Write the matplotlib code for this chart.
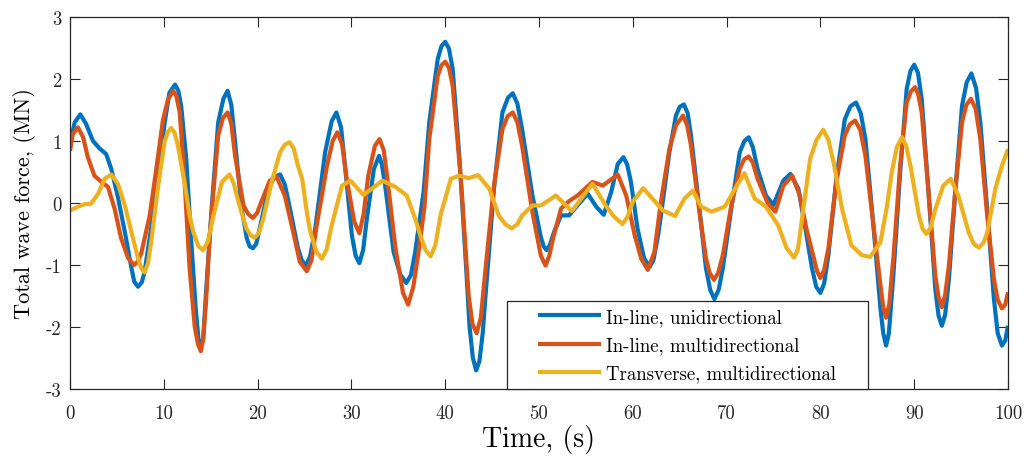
import numpy as np
import matplotlib as mpl
mpl.use('Agg')
import matplotlib.pyplot as plt
from matplotlib.patches import Rectangle

#### Series: (tiempo [s], fuerza total de ola [MN]) ####
inline_uni = [(0.0, 0.95), (0.5, 1.30), (1.1, 1.43), (1.7, 1.28), (2.45, 1.0), (3.15, 0.88), (3.85, 0.79),
              (4.4, 0.55), (5.1, 0.10), (5.85, -0.47), (6.55, -1.05), (6.85, -1.27), (7.25, -1.35),
              (7.65, -1.28), (7.95, -1.11), (8.65, -0.41), (9.4, 0.44), (10.1, 1.30), (10.6, 1.78),
              (11.2, 1.91), (11.55, 1.81), (11.85, 1.57), (12.4, 0.70), (12.9, -0.55), (13.4, -1.70),
              (13.7, -2.20), (13.95, -2.31), (14.2, -2.18), (14.5, -1.45), (15.1, -0.09), (15.8, 1.30),
              (16.35, 1.68), (16.8, 1.81), (17.2, 1.58), (17.6, 0.98), (18.3, -0.09), (18.85, -0.57),
              (19.15, -0.70), (19.5, -0.73), (19.85, -0.66), (20.3, -0.36), (21.15, 0.23), (21.8, 0.42),
              (22.4, 0.46), (22.9, 0.30), (23.45, -0.09), (24.3, -0.73), (24.7, -0.92), (25.15, -1.01),
              (25.6, -0.86), (26.15, -0.41), (27.2, 0.82), (27.9, 1.32), (28.4, 1.46), (28.9, 1.22),
              (29.35, 0.55), (30.05, -0.52), (30.45, -0.85), (30.85, -0.97), (31.25, -0.76), (31.65, -0.25),
              (32.4, 0.55), (32.95, 0.76), (33.25, 0.62), (33.6, 0.28), (34.5, -0.79), (35.2, -1.15),
              (35.85, -1.29), (36.35, -1.16), (36.8, -0.79), (37.7, 0.18), (38.3, 1.30), (39.2, 2.32),
              (39.6, 2.53), (40.0, 2.60), (40.4, 2.49), (40.8, 2.16), (41.5, 0.76), (42.2, -0.96),
              (42.6, -2.0), (42.95, -2.5), (43.3, -2.70), (43.65, -2.55), (44.0, -2.1), (44.3, -1.49),
              (45.2, 0.23), (46.1, 1.46), (46.7, 1.70), (47.2, 1.77), (47.7, 1.60), (48.2, 1.19),
              (49.3, 0.12), (50.2, -0.55), (50.5, -0.70), (50.8, -0.76), (51.15, -0.68), (51.6, -0.47),
              (52.35, -0.20), (53.2, -0.20), (54.1, -0.04), (55.2, 0.15), (56.1, -0.06), (56.9, -0.19),
              (57.7, 0.18), (58.4, 0.63), (59.0, 0.74), (59.4, 0.62), (59.8, 0.34), (60.5, -0.41),
              (61.2, -0.89), (61.8, -1.03), (62.2, -0.92), (62.7, -0.52), (63.0, -0.20), (63.9, 0.82),
              (64.6, 1.41), (65.0, 1.55), (65.45, 1.59), (65.85, 1.45), (66.2, 1.09), (67.1, -0.09),
              (67.8, -1.05), (68.25, -1.40), (68.7, -1.55), (69.15, -1.40), (69.6, -1.05), (70.5, -0.09),
              (71.4, 0.82), (71.9, 1.0), (72.35, 1.06), (72.8, 0.9), (73.3, 0.55), (74.2, 0.12),
              (75.0, -0.03), (76.05, 0.36), (76.8, 0.47), (77.65, 0.23), (78.4, -0.41), (79.1, -1.05),
              (79.55, -1.35), (80.0, -1.45), (80.4, -1.30), (80.85, -0.84), (81.7, 0.39), (82.6, 1.35),
              (83.2, 1.56), (83.8, 1.62), (84.3, 1.45), (84.8, 1.03), (85.65, -0.36), (86.4, -1.70),
              (86.7, -2.1), (87.0, -2.30), (87.3, -2.1), (87.8, -1.12), (88.5, 0.49), (89.2, 1.84),
              (89.6, 2.13), (90.0, 2.23), (90.4, 2.10), (90.8, 1.68), (91.5, 0.23), (92.25, -1.39),
              (92.6, -1.82), (92.95, -1.98), (93.3, -1.80), (93.7, -1.23), (94.4, 0.23), (95.1, 1.57),
              (95.6, 1.95), (96.1, 2.09), (96.6, 1.85), (97.05, 1.30), (97.75, -0.04), (98.5, -1.55),
              (98.9, -2.10), (99.35, -2.30), (99.7, -2.22), (100.0, -1.98)]

inline_multi = [(0.0, 0.84), (0.3, 1.11), (0.85, 1.22), (1.4, 1.06), (1.9, 0.74), (2.6, 0.44), (3.35, 0.34),
                (4.05, 0.26), (4.75, -0.09), (5.45, -0.57), (6.2, -0.89), (6.8, -1.0), (7.2, -0.95),
                (7.6, -0.81), (8.5, -0.20), (9.2, 0.55), (9.9, 1.33), (10.45, 1.67), (11.0, 1.81),
                (11.35, 1.72), (11.7, 1.46), (12.2, 0.39), (12.75, -1.05), (13.3, -2.0), (13.65, -2.28),
                (13.95, -2.39), (14.2, -2.20), (14.5, -1.6), (14.9, -0.52), (15.8, 1.09), (16.3, 1.37),
                (16.8, 1.46), (17.2, 1.28), (17.6, 0.76), (18.5, -0.04), (19.0, -0.18), (19.5, -0.24),
                (19.95, -0.16), (20.4, 0.02), (21.3, 0.36), (22.0, 0.43), (22.9, 0.12), (23.8, -0.47),
                (24.5, -0.95), (25.25, -1.10), (25.75, -0.92), (26.3, -0.36), (27.4, 0.60), (28.0, 1.0),
                (28.5, 1.14), (29.0, 0.95), (29.5, 0.39), (30.3, -0.30), (30.85, -0.49), (31.3, -0.18),
                (31.8, 0.44), (32.5, 0.92), (33.0, 1.03), (33.45, 0.85), (33.8, 0.44), (34.7, -0.73),
                (35.5, -1.45), (36.05, -1.64), (36.6, -1.35), (37.2, -0.75), (37.8, -0.05), (38.3, 1.03),
                (39.2, 2.05), (39.6, 2.22), (40.0, 2.28), (40.4, 2.18), (40.8, 1.89), (41.7, 0.33),
                (42.5, -1.49), (42.9, -1.95), (43.35, -2.10), (43.8, -1.85), (44.3, -1.06), (45.2, 0.28),
                (46.1, 1.19), (46.65, 1.40), (47.2, 1.46), (47.7, 1.30), (48.2, 0.92), (49.3, -0.15),
                (50.2, -0.85), (50.7, -1.01), (51.1, -0.85), (51.5, -0.57), (52.35, -0.09), (53.2, 0.03),
                (54.1, 0.12), (55.7, 0.34), (56.8, 0.28), (58.4, 0.46), (59.3, 0.12), (60.2, -0.52),
                (60.9, -0.90), (61.6, -1.08), (62.3, -0.79), (63.0, 0.02), (63.9, 0.87), (64.6, 1.25),
                (65.35, 1.41), (65.8, 1.25), (66.2, 0.93), (67.1, -0.14), (67.8, -0.89), (68.2, -1.13),
                (68.65, -1.24), (69.1, -1.13), (69.6, -0.84), (70.5, -0.04), (71.4, 0.55), (71.85, 0.70),
                (72.35, 0.75), (72.8, 0.65), (73.3, 0.39), (74.4, -0.01), (75.2, -0.14), (76.05, 0.28),
                (77.0, 0.44), (77.8, 0.12), (78.5, -0.41), (79.3, -0.89), (79.65, -1.10), (80.0, -1.21),
                (80.4, -1.08), (80.85, -0.73), (81.7, 0.34), (82.6, 1.09), (83.15, 1.27), (83.7, 1.33),
                (84.25, 1.18), (84.8, 0.76), (85.65, -0.36), (86.4, -1.32), (86.7, -1.68), (87.0, -1.85),
                (87.35, -1.62), (87.8, -0.85), (88.5, 0.60), (89.2, 1.62), (89.65, 1.80), (90.1, 1.87),
                (90.45, 1.74), (90.8, 1.46), (91.5, 0.23), (92.25, -1.17), (92.6, -1.52), (92.95, -1.68),
                (93.3, -1.48), (93.7, -1.01), (94.4, 0.23), (95.1, 1.30), (95.55, 1.58), (96.05, 1.68),
                (96.55, 1.52), (97.05, 1.03), (97.75, -0.15), (98.5, -1.23), (98.9, -1.56), (99.35, -1.70),
                (99.7, -1.64), (100.0, -1.44)]

transverse_multi = [(0.0, -0.12), (0.85, -0.06), (1.55, -0.02), (2.25, -0.01), (3.0, 0.15), (3.7, 0.39),
                    (4.4, 0.46), (5.1, 0.31), (5.85, -0.04), (6.55, -0.47), (7.25, -0.89), (7.6, -1.05),
                    (7.95, -1.12), (8.3, -0.98), (8.65, -0.63), (9.4, 0.28), (10.1, 1.0), (10.45, 1.15),
                    (10.8, 1.21), (11.15, 1.13), (11.5, 0.93), (12.2, 0.34), (12.75, -0.2), (13.15, -0.47),
                    (13.7, -0.70), (14.2, -0.76), (14.7, -0.62), (15.3, -0.20), (16.2, 0.34), (17.0, 0.46),
                    (17.45, 0.32), (17.95, 0.02), (18.8, -0.41), (19.25, -0.52), (19.7, -0.56), (20.15, -0.48),
                    (20.6, -0.25), (21.5, 0.34), (22.4, 0.82), (22.9, 0.94), (23.4, 0.98), (23.85, 0.88),
                    (24.3, 0.60), (24.75, 0.39), (25.3, -0.20), (25.6, -0.45), (26.25, -0.78), (26.85, -0.90),
                    (27.35, -0.75), (27.9, -0.36), (29.0, 0.28), (29.9, 0.36), (31.3, 0.13), (33.3, 0.36),
                    (34.7, 0.26), (35.9, 0.12), (36.8, -0.25), (37.3, -0.50), (37.9, -0.76), (38.45, -0.86),
                    (38.95, -0.68), (39.5, -0.20), (40.6, 0.39), (41.5, 0.44), (42.5, 0.40), (43.5, 0.45),
                    (44.7, 0.23), (45.7, -0.20), (46.4, -0.34), (47.1, -0.41), (47.7, -0.34), (48.2, -0.20),
                    (49.3, -0.04), (50.2, -0.04), (51.8, 0.12), (53.5, -0.13), (55.7, 0.31), (57.1, -0.04),
                    (58.0, -0.22), (58.9, -0.34), (59.45, -0.22), (60.0, 0.02), (61.1, 0.24), (62.1, 0.07),
                    (63.2, -0.12), (64.5, -0.21), (65.5, 0.07), (66.4, 0.20), (67.3, -0.06), (68.4, -0.14),
                    (69.8, -0.06), (70.9, 0.23), (71.9, 0.48), (73.0, 0.07), (74.2, -0.06), (75.5, -0.36),
                    (76.4, -0.73), (77.2, -0.88), (77.6, -0.75), (78.0, -0.30), (78.9, 0.71), (79.6, 1.02),
                    (80.3, 1.18), (80.85, 1.02), (81.4, 0.66), (82.3, -0.09), (83.3, -0.68), (84.4, -0.84),
                    (85.3, -0.87), (86.4, -0.63), (87.1, -0.05), (87.6, 0.49), (88.15, 0.90), (88.7, 1.06),
                    (89.15, 0.92), (89.6, 0.60), (90.5, -0.20), (90.9, -0.42), (91.3, -0.50), (91.75, -0.40),
                    (92.25, -0.10), (93.1, 0.28), (93.9, 0.39), (94.7, 0.12), (95.8, -0.47), (96.35, -0.66),
                    (96.9, -0.72), (97.4, -0.64), (97.8, -0.47), (98.65, 0.23), (99.35, 0.60), (100.0, 0.87)]

etiquetas = ['In-line, unidirectional', 'In-line, multidirectional', 'Transverse, multidirectional']
xticks = [0, 10, 20, 30, 40, 50, 60, 70, 80, 90, 100]
yticks = [-3, -2, -1, 0, 1, 2, 3]

#### Estilo tipo LaTeX ####
plt.rcParams['font.family'] = 'cmr10'
plt.rcParams['mathtext.fontset'] = 'cm'
plt.rcParams['axes.unicode_minus'] = False

colores = ['#0072BD', '#D95319', '#EDB120']

fig = plt.figure(figsize=(10.26, 4.6), dpi=100)
ax = fig.add_axes([70/1026, 1 - 390/460, 938/1026, 372/460])

for serie, c, lab in zip([inline_uni, inline_multi, transverse_multi], colores, etiquetas):
    t, F = np.array(serie).T
    ax.plot(t, F, color=c, linewidth=3.0, label=lab, solid_joinstyle='round', solid_capstyle='butt')

ax.set_xlim(0, 100)
ax.set_ylim(-3, 3)
ax.set_xticks(xticks)
ax.set_xticklabels([str(v) for v in xticks], fontsize=13.5)
ax.set_yticks(yticks)
ax.set_yticklabels([str(v) for v in yticks], fontsize=13.5)
ax.tick_params(direction='in', length=7, width=0.8, top=True, right=True, colors='0.15')
ax.tick_params(axis='x', pad=11)
ax.tick_params(axis='y', pad=6)
for s in ax.spines.values():
    s.set_linewidth(0.9)
    s.set_color('0.15')

ax.set_xlabel('Time, (s)', fontsize=20, labelpad=1)
ax.set_ylabel('Total wave force, (MN)', fontsize=16, labelpad=7)

#### Leyenda (caja dibujada aparte) ####
caja = Rectangle((0.4656, 0.0), 0.3849, 0.2374, transform=ax.transAxes, facecolor='white',
                 edgecolor='0.15', linewidth=0.9, zorder=5, clip_on=False)
ax.add_patch(caja)
leg = ax.legend(loc='center', bbox_to_anchor=(0.658, 0.118), fontsize=13.5, frameon=False,
                handlelength=3.34, handletextpad=0.3, borderpad=0, borderaxespad=0,
                labelspacing=0.56)
leg.set_zorder(6)

plt.savefig('out.png', dpi=100)
